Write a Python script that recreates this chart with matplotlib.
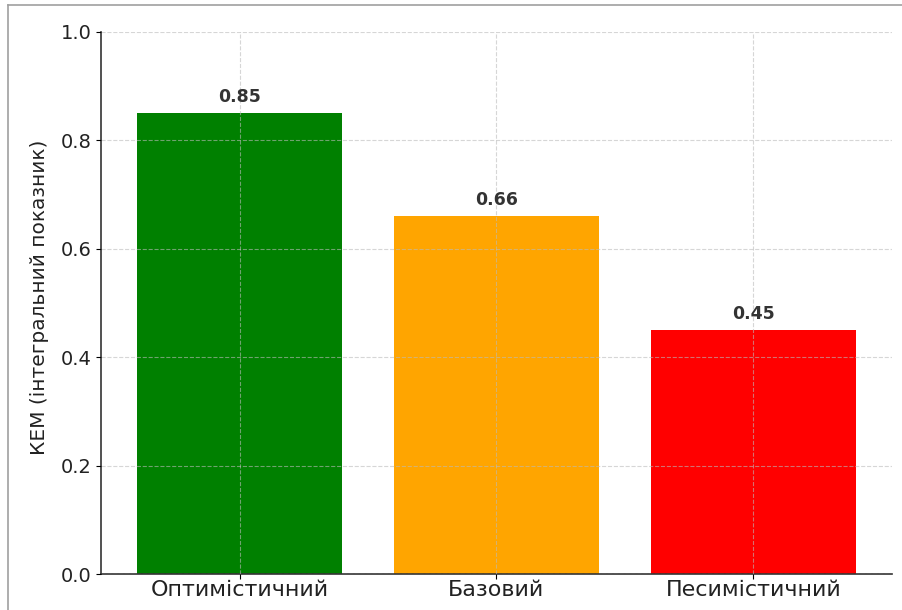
import matplotlib
matplotlib.use("Agg")
import matplotlib.pyplot as plt
from matplotlib.lines import Line2D

scenarios = ["Оптимістичний", "Базовий", "Песимістичний"]
kem_values = [0.85, 0.66, 0.45]
bar_colors = ["green", "orange", "red"]
y_ticks = [0.0, 0.2, 0.4, 0.6, 0.8, 1.0]

plt.rcParams["font.family"] = ["DejaVu Sans"]

fig = plt.figure(figsize=(9.02, 6.10), dpi=100)
ax = fig.add_axes([101 / 902, 1 - 574 / 610, (892 - 101) / 902, (574 - 32) / 610])

x = range(len(scenarios))
bars = ax.bar(x, kem_values, color=bar_colors, width=0.8)
for xi, v in zip(x, kem_values):
    ax.text(xi, v + 0.013, f"{v:.2f}", ha="center", va="bottom",
            fontsize=12.5, fontweight="bold", color="#333333")

ax.set_xticks(list(x))
ax.set_xticklabels(scenarios, fontsize=16, color="#222222")
ax.set_ylim(0, 1.0)
ax.set_yticks(y_ticks)
ax.set_yticklabels([f"{t:.1f}" for t in y_ticks], fontsize=14, color="#222222")
ax.tick_params(axis="x", pad=1)
ax.set_ylabel("КЕМ (інтегральний показник)", fontsize=14.5, color="#222222")
ax.yaxis.set_label_coords(-0.066, 0.51)

ax.grid(True, linestyle="--", color="#bbbbbb", alpha=0.6, linewidth=0.8)
ax.set_axisbelow(False)
for s in ["top", "right"]:
    ax.spines[s].set_visible(False)
for s in ["left", "bottom"]:
    ax.spines[s].set_color("#333333")
    ax.spines[s].set_linewidth(1.2)

# frame lines along the top and left edge
fig.add_artist(Line2D([8 / 902, 8 / 902], [0, 1 - 5 / 610], color="#a0a0a0", linewidth=1.2))
fig.add_artist(Line2D([8 / 902, 1], [1 - 5 / 610, 1 - 5 / 610], color="#a0a0a0", linewidth=1.2))

fig.savefig("out.png", dpi=100)
